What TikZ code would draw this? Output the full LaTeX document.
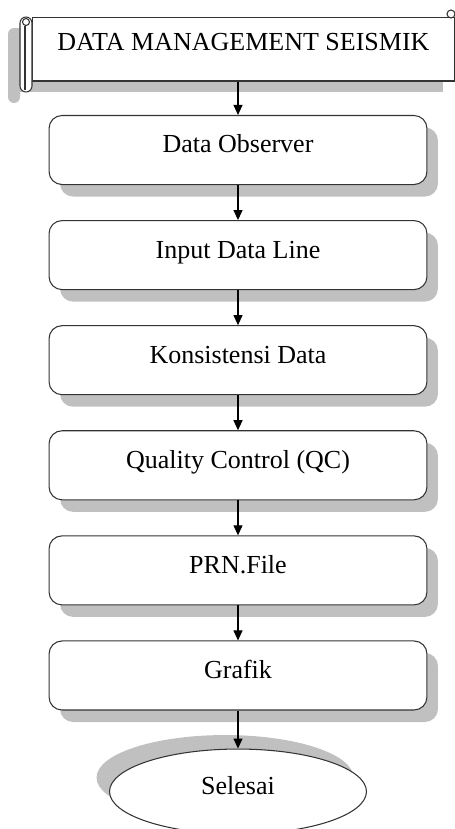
\documentclass[tikz,border=0pt]{standalone}
\usepackage{fontspec}
\setmainfont{Liberation Serif}
\usetikzlibrary{arrows.meta,positioning,shapes.geometric,shadows}

\definecolor{shadowgray}{HTML}{C0C0C0}
\definecolor{linegray}{HTML}{333333}

\begin{document}
\begin{tikzpicture}[
    x=0.02cm, y=-0.02cm,
    node distance=0.7cm,
    font=\fontsize{14.8}{17}\selectfont,
    stepbox/.style={
      draw=linegray,
      line width=0.6pt,
      rounded corners=0.26cm,
      fill=white,
      minimum width=7.56cm,
      inner sep=0pt,
      text height=21.35pt,
      text depth=17.95pt,
      drop shadow={fill=shadowgray, opacity=1, shadow xshift=0.22cm, shadow yshift=-0.24cm}
    },
    endnode/.style={
      draw=linegray,
      line width=0.6pt,
      ellipse,
      fill=white,
      minimum width=5.14cm,
      minimum height=1.7cm,
      inner sep=0pt,
      text height=10.5pt,
      text depth=7.7pt,
      drop shadow={fill=shadowgray, opacity=1, shadow xshift=-0.26cm, shadow yshift=0.28cm}
    },
    flow/.style={-{Triangle[length=0.2cm,width=0.18cm]}, line width=0.6pt, draw=black}
  ]
    \useasboundingbox (0,0) rectangle (455,829);
    \clip (0,0) rectangle (455,829);

    % scroll banner
    \fill[shadowgray, rounded corners=0.12cm] (8,28) rectangle (20,103);
    \fill[shadowgray] (14,28) rectangle (443,92);
    \node[draw=linegray, line width=0.6pt, fill=white, minimum width=8.46cm,
      inner sep=0pt, text height=18.8pt, text depth=17.6pt] (title) at (243.5,49)
      {DATA MANAGEMENT SEISMIK};
    \draw[linegray, line width=0.6pt, fill=white, rounded corners=0.12cm] (20,17) rectangle (32,92);
    \draw[linegray, line width=0.6pt] (25,26) -- (25,90);
    \draw[linegray, line width=0.6pt, fill=white] (26,22) circle (3.5);
    \draw[linegray, line width=0.6pt, fill=white] (451,14) circle (4);

    % steps
    \node[stepbox] (observer) at (238,150) {Data Observer};
    \node[stepbox, below=of observer] (input) {Input Data Line};
    \node[stepbox, below=of input] (konsistensi) {Konsistensi Data};
    \node[stepbox, below=of konsistensi] (qc) {Quality Control (QC)};
    \node[stepbox, below=of qc] (prn) {PRN.File};
    \node[stepbox, below=of prn] (grafik) {Grafik};
    \node[endnode, below=0.76cm of grafik] (selesai) {Selesai};

    \draw[flow] (title.south -| observer.north) -- (observer);
    \draw[flow] (observer) -- (input);
    \draw[flow] (input) -- (konsistensi);
    \draw[flow] (konsistensi) -- (qc);
    \draw[flow] (qc) -- (prn);
    \draw[flow] (prn) -- (grafik);
    \draw[flow] (grafik) -- (selesai);
  \end{tikzpicture}
\end{document}
